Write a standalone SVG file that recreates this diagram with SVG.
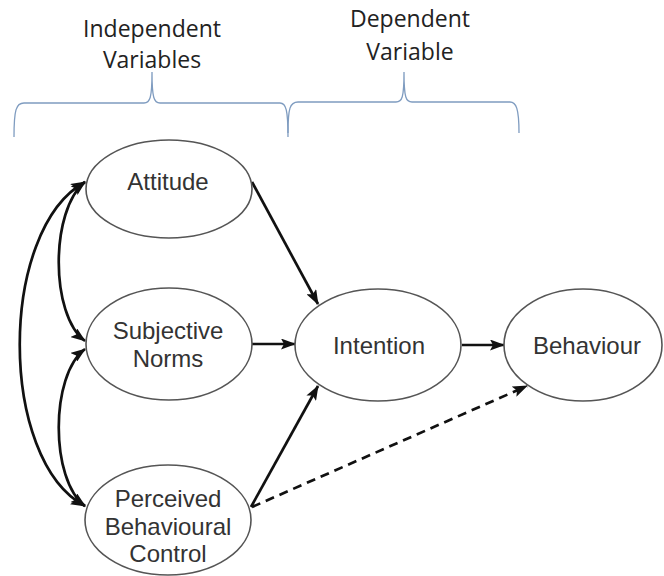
<svg xmlns="http://www.w3.org/2000/svg" width="664" height="576" viewBox="0 0 664 576">
<style>
.node ellipse{fill:#fff;stroke:#555;stroke-width:1.6}
.node text{font-family:"Liberation Sans",Arial,sans-serif;font-size:24px;fill:#333;text-anchor:middle}
.hdr{font-family:"Open Sans","DejaVu Sans",sans-serif;font-size:23px;fill:#222;text-anchor:middle}
.brace{fill:none;stroke:#7f9cc0;stroke-width:1.3}
.conn path{fill:none;stroke:#111;stroke-width:2.7}
.dash{stroke-dasharray:9 6}
</style>
<defs>
<marker id="ah" viewBox="0 0 15 11" refX="14" refY="5.5" markerWidth="15" markerHeight="11" markerUnits="userSpaceOnUse" orient="auto-start-reverse">
<path d="M0,0 L15,5.5 L0,11 L3,5.5 z" fill="#111"/>
</marker>
</defs>
<rect width="664" height="576" fill="#fff"/>
<g id="headers">
<text class="hdr" x="152" y="37">Independent</text>
<text class="hdr" x="152" y="68">Variables</text>
<text class="hdr" x="410" y="27">Dependent</text>
<text class="hdr" x="410" y="60">Variable</text>
<path class="brace" d="M14,137 C14,110 16,103 24,103 L144,103 C150,103 152,98 152,72 C152,98 154,103 160,103 L280,103 C286,103 288,110 288,137"/>
<path class="brace" d="M288,133 C288,108 290,102 298,102 L396,102 C402,102 404,98 404,72 C404,98 406,102 412,102 L510,102 C516,102 519,108 519,133"/>
</g>
<g class="conn" id="connectors">
<path d="M85,182 C-2,230 -2,460 85,506" marker-start="url(#ah)" marker-end="url(#ah)"/>
<path d="M85,182 C50,210 50,315 85,341" marker-start="url(#ah)" marker-end="url(#ah)"/>
<path d="M85,349 C50,375 50,480 85,506" marker-start="url(#ah)" marker-end="url(#ah)"/>
<path d="M252,182 L318,304" marker-end="url(#ah)"/>
<path d="M252,344 L295,344" marker-end="url(#ah)"/>
<path d="M251,507 L318,386" marker-end="url(#ah)"/>
<path d="M462,345 L504,345" marker-end="url(#ah)"/>
<path class="dash" d="M252,507 L527,386" marker-end="url(#ah)"/>
</g>
<g class="node" id="attitude">
<ellipse cx="169" cy="189" rx="83" ry="49"/>
<text x="168" y="190">Attitude</text>
</g>
<g class="node" id="subjective-norms">
<ellipse cx="169" cy="344" rx="83" ry="56"/>
<text x="168" y="339">Subjective</text>
<text x="168" y="367">Norms</text>
</g>
<g class="node" id="pbc">
<ellipse cx="168" cy="520" rx="83" ry="55"/>
<text x="168" y="507">Perceived</text>
<text x="168" y="535">Behavioural</text>
<text x="168" y="562">Control</text>
</g>
<g class="node" id="intention">
<ellipse cx="378" cy="345" rx="83" ry="56"/>
<text x="379" y="354">Intention</text>
</g>
<g class="node" id="behaviour">
<ellipse cx="583" cy="345" rx="79" ry="56"/>
<text x="587" y="354">Behaviour</text>
</g>
</svg>
